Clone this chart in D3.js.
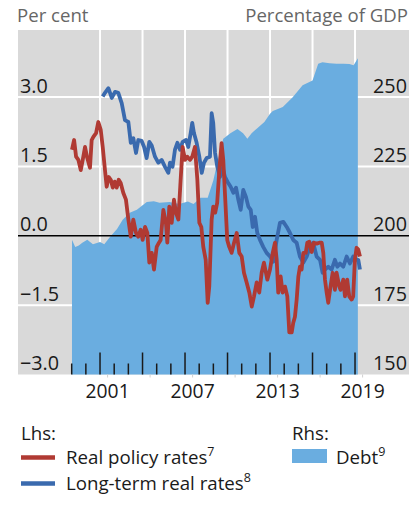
<!DOCTYPE html>
<html><head><meta charset="utf-8">
<script src="https://cdn.jsdelivr.net/npm/d3@7"></script>
<style>
body{margin:0;background:#fff;}
svg text{font-family:"Open Sans","Noto Sans",sans-serif;}
</style></head>
<body>
<svg id="c" width="420" height="518"></svg>
<script>
// ---- data (decimal years) ----
const policyYears = [1999.02,1999.17,1999.31,1999.47,1999.64,1999.78,1999.94,2000.10,2000.29,2000.41,2000.53,2000.72,2000.88,2001.05,2001.19,2001.35,2001.47,2001.61,2001.76,2001.90,2002.04,2002.18,2002.32,2002.46,2002.64,2002.83,2003.00,2003.17,2003.35,2003.54,2003.70,2003.87,2004.01,2004.18,2004.34,2004.48,2004.65,2004.81,2005.00,2005.16,2005.28,2005.47,2005.66,2005.75,2005.89,2006.06,2006.22,2006.36,2006.53,2006.69,2006.83,2007.00,2007.16,2007.35,2007.51,2007.70,2007.87,2008.01,2008.15,2008.29,2008.46,2008.60,2008.71,2008.88,2008.99,2009.13,2009.27,2009.42,2009.58,2009.70,2009.84,2009.98,2010.12,2010.29,2010.46,2010.65,2010.83,2011.00,2011.16,2011.35,2011.54,2011.71,2011.87,2012.06,2012.24,2012.41,2012.57,2012.81,2013.00,2013.19,2013.35,2013.47,2013.58,2013.75,2013.89,2014.06,2014.22,2014.36,2014.53,2014.64,2014.76,2014.88,2015.00,2015.11,2015.23,2015.35,2015.52,2015.63,2015.77,2015.94,2016.10,2016.29,2016.48,2016.65,2016.76,2016.88,2017.00,2017.11,2017.27,2017.42,2017.58,2017.70,2017.89,2017.98,2018.17,2018.29,2018.45,2018.59,2018.76,2018.87,2018.99,2019.11,2019.23,2019.35];
const policyRates = [1.86,2.07,1.71,1.64,1.42,1.64,1.92,1.68,1.47,2.07,2.14,2.22,2.46,2.29,1.92,1.42,1.06,1.27,1.21,1.04,1.17,1.04,1.21,1.14,0.93,0.78,0.35,-0.02,0.35,0.06,-0.02,0.13,-0.09,0.19,0.06,-0.58,-0.37,-0.73,-0.24,-0.15,-0.09,0.56,0.25,-0.15,0.63,0.28,0.78,0.50,0.35,1.21,1.92,1.64,1.71,1.64,1.71,1.92,1.21,0.28,0.19,-0.24,-0.52,-1.45,-1.10,0.35,0.63,0.50,0.71,1.42,2.00,1.64,0.78,-0.09,-0.24,-0.37,-0.15,0.06,-0.37,-0.45,-0.80,-1.01,-1.23,-1.53,-1.31,-1.01,-1.23,-0.80,-0.58,-0.95,-0.73,-0.37,-0.15,-0.52,-1.23,-0.88,-1.23,-1.10,-1.31,-2.09,-2.09,-1.88,-1.75,-1.38,-0.88,-0.67,-0.73,-0.37,-0.37,-0.15,-0.13,-0.35,-0.15,-0.17,-0.15,-0.15,-0.37,-0.95,-1.23,-1.45,-1.10,-0.80,-1.17,-0.80,-1.10,-1.17,-0.95,-1.31,-0.95,-1.31,-1.38,-1.31,-0.52,-0.26,-0.30,-0.45];

const longYears = [2001.19,2001.35,2001.59,2001.83,2002.06,2002.29,2002.53,2002.76,2003.00,2003.17,2003.35,2003.54,2003.70,2003.94,2004.11,2004.29,2004.48,2004.65,2004.88,2005.11,2005.35,2005.59,2005.82,2005.94,2006.12,2006.29,2006.46,2006.65,2006.83,2007.07,2007.23,2007.40,2007.51,2007.63,2007.82,2008.01,2008.18,2008.34,2008.53,2008.76,2008.88,2008.99,2009.12,2009.28,2009.47,2009.66,2009.82,2010.05,2010.22,2010.41,2010.60,2010.76,2010.93,2011.11,2011.30,2011.47,2011.64,2011.78,2011.94,2012.10,2012.29,2012.52,2012.76,2013.00,2013.23,2013.47,2013.70,2013.94,2014.18,2014.41,2014.64,2014.88,2015.11,2015.35,2015.59,2015.82,2016.05,2016.29,2016.53,2016.71,2016.88,2017.11,2017.35,2017.58,2017.75,2017.94,2018.17,2018.41,2018.64,2018.87,2019.07,2019.23,2019.35];
const longRates = [3.01,3.09,3.19,2.98,3.11,3.09,2.87,2.50,2.46,2.01,2.11,1.79,2.07,2.05,1.92,1.68,2.03,1.95,1.71,1.58,1.64,1.49,1.36,1.58,1.49,1.86,2.01,1.86,2.03,2.07,1.92,2.22,2.44,2.22,2.01,1.71,1.36,1.58,1.68,1.71,2.65,2.44,1.79,1.49,1.27,1.47,1.27,1.14,1.06,0.93,1.04,0.78,0.56,0.99,0.84,0.63,0.56,0.19,0.41,0.06,-0.09,-0.24,-0.37,-0.45,-0.56,-0.09,0.28,0.30,0.19,0.06,-0.09,-0.15,-0.45,-0.58,-0.45,-0.24,-0.15,-0.45,-0.52,-0.80,-0.73,-0.67,-0.73,-0.52,-0.67,-0.60,-0.67,-0.45,-0.60,-0.45,-0.52,-0.52,-0.73];

const debtYears = [1999.02,1999.25,1999.5,1999.75,2000.1,2000.5,2001.0,2001.3,2001.7,2002.2,2002.6,2003.1,2003.6,2004.3,2004.8,2005.2,2005.9,2006.6,2007.2,2007.6,2008.1,2008.6,2009.0,2009.4,2009.7,2010.2,2010.7,2011.1,2011.4,2011.7,2012.1,2012.6,2013.0,2013.2,2013.9,2014.6,2015.3,2016.0,2016.4,2016.7,2017.2,2017.7,2018.2,2018.6,2018.9,2019.2];
const debtValues = [198.6,196.0,196.5,197.5,198.6,197.0,197.8,197.0,199.6,202.5,205.8,208.3,209.4,212.2,212.5,211.9,212.2,211.5,212.4,211.5,213.7,213.7,220,229,235,237,238.5,237,235,237,238.8,241,244,245,246.4,250,254.3,256,262,262.6,262.2,262,262,261.9,261.5,264];

const leftTicks = [3.0, 1.5, 0.0, -1.5, -3.0];
const rightTicks = [250, 225, 200, 175, 150];
const gridYears = [2001, 2004, 2007, 2010, 2013, 2016, 2019];
const tickYears = d3.range(1999, 2020);
const labelYears = [2001, 2007, 2013, 2019];

// ---- layout ----
const L = 18, R = 409, T = 30, B = 374.5;
const svg = d3.select("#c");
const x = d3.scaleLinear().domain([1995.21, 2022.81]).range([L, R]);
const yL = d3.scaleLinear().domain([-3, 4.449]).range([B, T]);
const yR = d3.scaleLinear().domain([150, 274.2]).range([B, T]);

const RED = "#b03a33", BLUE = "#3a6aae", DEBT = "#6aade0";

svg.append("rect").attr("x", L).attr("y", T).attr("width", R - L).attr("height", B - T).attr("fill", "#d9d9d9");

// grid
svg.append("g").selectAll("line").data(gridYears).join("line")
  .attr("x1", d => x(d)).attr("x2", d => x(d)).attr("y1", T).attr("y2", B)
  .attr("stroke", "#fff").attr("stroke-width", 2);
svg.append("g").selectAll("line").data(leftTicks.filter(d => d !== 0 && d !== -3)).join("line")
  .attr("x1", L).attr("x2", R).attr("y1", d => yL(d)).attr("y2", d => yL(d))
  .attr("stroke", "#fff").attr("stroke-width", 2);

// debt area
const debt = debtYears.map((t, i) => [t, debtValues[i]]);
svg.append("path").datum(debt)
  .attr("d", d3.area().x(d => x(d[0])).y0(yR(150)).y1(d => yR(d[1])))
  .attr("fill", DEBT);

// zero line
svg.append("line").attr("x1", L).attr("x2", R).attr("y1", yL(0)).attr("y2", yL(0))
  .attr("stroke", "#000").attr("stroke-width", 1.4);

// inner year ticks
svg.append("g").selectAll("line").data(tickYears).join("line")
  .attr("x1", d => x(d)).attr("x2", d => x(d))
  .attr("y1", d => B - ((d - 2001) % 3 === 0 ? 22 : 11)).attr("y2", B)
  .attr("stroke", "#1a1a1a").attr("stroke-width", 1.5);

// lines
const lineGen = d3.line().x(d => x(d[0])).y(d => yL(d[1]));
svg.append("path").datum(longYears.map((t, i) => [t, longRates[i]]))
  .attr("d", lineGen).attr("fill", "none").attr("stroke", BLUE).attr("stroke-width", 3.8).attr("stroke-linejoin", "round");
svg.append("path").datum(policyYears.map((t, i) => [t, policyRates[i]]))
  .attr("d", lineGen).attr("fill", "none").attr("stroke", RED).attr("stroke-width", 3.8).attr("stroke-linejoin", "round");

// bottom axis
const midTicks = d3.range(2001.5, 2020, 3);
const xAxis = d3.axisBottom(x).tickValues(midTicks).tickSize(3).tickPadding(7)
  .tickFormat(d => labelYears.includes(Math.floor(d)) ? String(Math.floor(d)) : "");
const gx = svg.append("g").attr("transform", `translate(0,${B})`).call(xAxis);
gx.select(".domain").remove();
gx.selectAll(".tick line").attr("stroke", "#d0d0d0");
gx.selectAll("text").attr("font-size", 19.3).attr("fill", "#1a1a1a").attr("font-family", "'Open Sans'");

// left axis
const gl = svg.append("g").call(d3.axisLeft(yL).tickValues(leftTicks).tickSize(0).tickFormat(d3.format(".1f")));
gl.select(".domain").remove();
gl.selectAll("text").attr("x", 20).attr("dy", -5).attr("text-anchor", "start")
  .attr("font-size", 19.8).attr("fill", "#1a1a1a").attr("font-family", "'Open Sans'");

// right axis
const gr = svg.append("g").attr("transform", `translate(${R},0)`)
  .call(d3.axisRight(yR).tickValues(rightTicks).tickSize(0));
gr.select(".domain").remove();
gr.selectAll("text").attr("x", -2).attr("dy", -5).attr("text-anchor", "end")
  .attr("font-size", 19.8).attr("fill", "#1a1a1a").attr("font-family", "'Open Sans'");

// titles
svg.append("text").attr("x", 17).attr("y", 22).attr("font-size", 18.6).attr("fill", "#666").text("Per cent");
svg.append("text").attr("x", 408).attr("y", 22).attr("text-anchor", "end").attr("font-size", 18.6).attr("fill", "#666").text("Percentage of GDP");

// legend
const lg = svg.append("g").attr("font-size", 18.7).attr("fill", "#1a1a1a");
lg.append("text").attr("x", 21).attr("y", 440).text("Lhs:");
lg.append("text").attr("x", 292).attr("y", 440).text("Rhs:");
function item(xs, y, color, label, sup) {
  lg.append("line").attr("x1", xs).attr("x2", xs + 34).attr("y1", y).attr("y2", y).attr("stroke", color).attr("stroke-width", 4.5);
  const t = lg.append("text").attr("x", xs + 45).attr("y", y + 6.5);
  t.append("tspan").text(label);
  t.append("tspan").attr("font-size", 12.5).attr("dy", -8).text(sup);
}
item(21, 457.5, RED, "Real policy rates", "7");
item(21, 483.5, BLUE, "Long-term real rates", "8");
lg.append("rect").attr("x", 292).attr("y", 449).attr("width", 35).attr("height", 14).attr("fill", DEBT);
const dt = lg.append("text").attr("x", 336).attr("y", 464);
dt.append("tspan").text("Debt");
dt.append("tspan").attr("font-size", 12.5).attr("dy", -8).text("9");
</script>
</body></html>
